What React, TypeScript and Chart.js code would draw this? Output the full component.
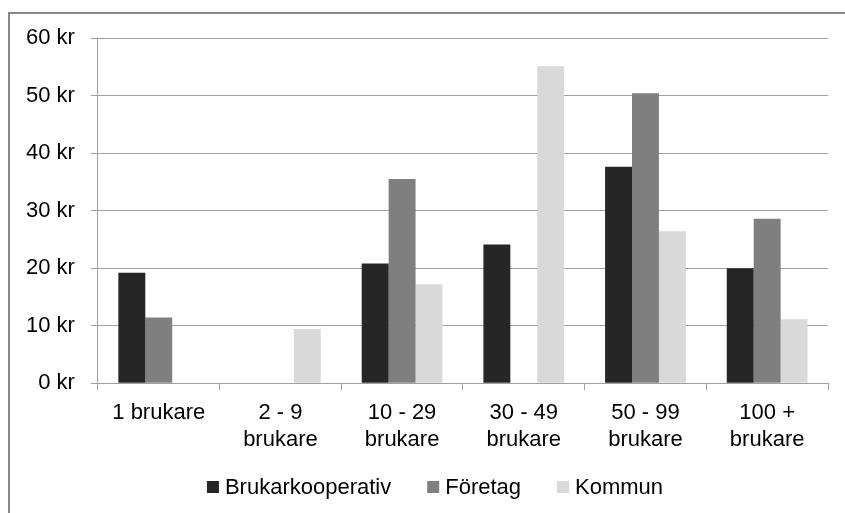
import React, { useEffect, useRef } from "react";
import { Chart, registerables } from "chart.js";

Chart.register(...registerables);

const categories: string[][] = [
  ["1 brukare"],
  ["2 - 9", "brukare"],
  ["10 - 29", "brukare"],
  ["30 - 49", "brukare"],
  ["50 - 99", "brukare"],
  ["100 +", "brukare"],
];

const brukarkooperativ = [19.2, 0, 20.8, 24.1, 37.6, 20.0];
const foretag = [11.4, 0, 35.5, 0, 50.4, 28.6];
const kommun = [0, 9.4, 17.2, 55.1, 26.4, 11.1];

const seriesNames = ["Brukarkooperativ", "Företag", "Kommun"];
const seriesColors = ["#262626", "#7f7f7f", "#d9d9d9"];

const yMin = 0;
const yMax = 60;
const yStep = 10;

const FONT = "'Liberation Sans', Arial, sans-serif";
const FONT_SIZE = 22;

const bottomLegend = {
  id: "bottomLegend",
  afterDraw(chart: any) {
    const ctx = chart.ctx as CanvasRenderingContext2D;
    const items = chart.data.datasets.map((d: any) => ({
      label: d.label as string,
      color: d.backgroundColor as string,
    }));
    const box = 12;
    const boxGap = 6;
    const itemGap = 36;
    const cy = 487;
    ctx.save();
    ctx.font = `${FONT_SIZE}px ${FONT}`;
    ctx.textBaseline = "middle";
    ctx.fillStyle = "#000";
    const widths = items.map((it: any) => box + boxGap + ctx.measureText(it.label).width);
    const total = widths.reduce((a: number, b: number) => a + b, 0) + itemGap * (items.length - 1);
    let x = 435 - total / 2;
    items.forEach((it: any, i: number) => {
      ctx.fillStyle = it.color;
      ctx.fillRect(x, cy - box / 2, box, box);
      ctx.fillStyle = "#000";
      ctx.textAlign = "left";
      ctx.fillText(it.label, x + box + boxGap, cy + 1);
      x += widths[i] + itemGap;
    });
    ctx.restore();
  },
};

export default function App() {
  const ref = useRef<HTMLCanvasElement | null>(null);

  useEffect(() => {
    if (!ref.current) return;
    const chart = new Chart(ref.current, {
      type: "bar",
      data: {
        labels: categories,
        datasets: [brukarkooperativ, foretag, kommun].map((d, i) => ({
          label: seriesNames[i],
          data: d,
          backgroundColor: seriesColors[i],
          borderWidth: 0,
          barPercentage: 1,
          categoryPercentage: 0.664,
        })),
      },
      options: {
        responsive: false,
        animation: false,
        layout: { padding: { top: 38, right: 17, left: 10, bottom: 50 } },
        plugins: {
          tooltip: { enabled: false },
          legend: { display: false },
        },
        scales: {
          x: {
            grid: {
              offset: true,
              drawOnChartArea: false,
              tickLength: 7,
              color: "#a0a0a0",
            },
            border: { color: "#a0a0a0" },
            ticks: {
              color: "#000",
              font: { family: FONT, size: FONT_SIZE, lineHeight: 1.2 },
              maxRotation: 0,
              autoSkip: false,
              padding: 10,
            },
          },
          y: {
            min: yMin,
            max: yMax,
            grid: { color: "#a0a0a0", tickLength: 7 },
            border: { color: "#a0a0a0" },
            ticks: {
              stepSize: yStep,
              color: "#000",
              font: { family: FONT, size: FONT_SIZE },
              padding: 16,
              callback: (v: any) => v + " kr",
            },
          },
        },
      },
      plugins: [bottomLegend],
    });
    return () => chart.destroy();
  }, []);

  return (
    <div
      style={{
        position: "fixed",
        left: 0,
        top: 0,
        width: 845,
        height: 513,
        overflow: "hidden",
        background: "#fff",
      }}
    >
      <canvas
        ref={ref}
        width={845}
        height={513}
        style={{ position: "absolute", left: 0, top: 0, width: 845, height: 513 }}
      />
      <div
        style={{
          position: "absolute",
          left: 8,
          top: 12,
          width: 900,
          height: 600,
          border: "2px solid #878787",
          boxSizing: "border-box",
          pointerEvents: "none",
        }}
      />
    </div>
  );
}
